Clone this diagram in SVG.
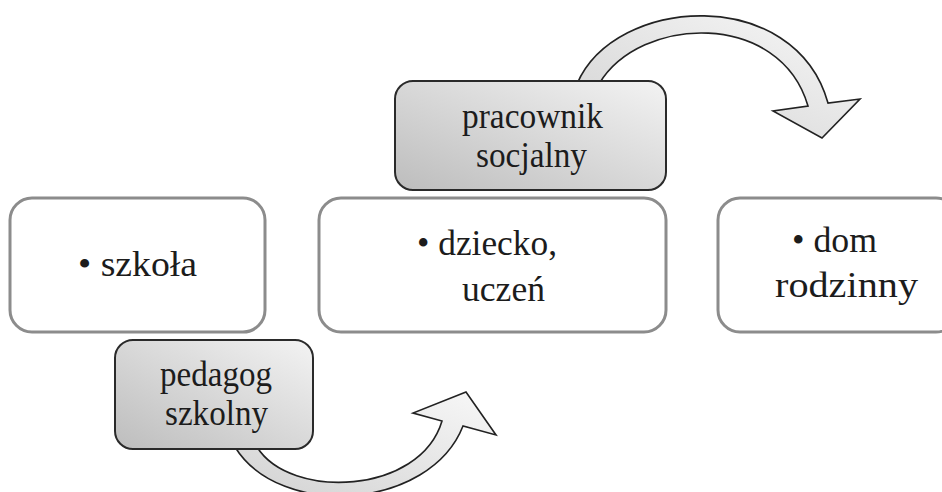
<svg xmlns="http://www.w3.org/2000/svg" width="942" height="492" viewBox="0 0 942 492">
<defs>
<linearGradient id="gBox" x1="0" y1="1" x2="1" y2="0">
<stop offset="0" stop-color="#bdbdbd"/>
<stop offset="1" stop-color="#f3f3f3"/>
</linearGradient>
<linearGradient id="gArrow" x1="0" y1="1" x2="1" y2="0">
<stop offset="0" stop-color="#d2d2d2"/>
<stop offset="1" stop-color="#f8f8f8"/>
</linearGradient>
<style>
.wbox{fill:#ffffff;stroke:#8c8c8c;stroke-width:3}
.gbox{fill:url(#gBox);stroke:#2a2a2a;stroke-width:2}
.arrow{fill:url(#gArrow);stroke:#222222;stroke-width:1.6;stroke-linejoin:miter}
text{font-family:"Liberation Serif","Times New Roman",serif;font-size:35px;fill:#1c1c1c}
</style>
</defs>
<rect width="942" height="492" fill="#ffffff"/>
<g id="connectors">
<path class="arrow" d="M599,84 C640,15 780,10 808,106 L773,111 L822,138 L860,99 L828,103 C795,-15 615,-5 577,84 Z"/>
<path class="arrow" d="M235,447 C280,520 430,510 463,426 L496,435 L466,392 L413,413 L442,421 C420,495 290,500 257,447 Z"/>
</g>
<g id="szkola">
<rect class="wbox" x="10" y="198" width="255" height="134" rx="22"/>
<text x="78" y="276" textLength="119" lengthAdjust="spacingAndGlyphs">• szkoła</text>
</g>
<g id="dziecko">
<rect class="wbox" x="319" y="198" width="347" height="134" rx="22"/>
<text x="417" y="255" textLength="140" lengthAdjust="spacingAndGlyphs">• dziecko,</text>
<text x="462" y="301" textLength="83" lengthAdjust="spacingAndGlyphs">uczeń</text>
</g>
<g id="dom">
<rect class="wbox" x="718" y="198" width="240" height="134" rx="22"/>
<text x="792" y="252" textLength="85" lengthAdjust="spacingAndGlyphs">• dom</text>
<text x="775" y="297" textLength="143" lengthAdjust="spacingAndGlyphs">rodzinny</text>
</g>
<g id="pracownik">
<rect class="gbox" x="395" y="81" width="271" height="109" rx="18"/>
<text x="462" y="128" textLength="141" lengthAdjust="spacingAndGlyphs">pracownik</text>
<text x="476" y="167" textLength="111" lengthAdjust="spacingAndGlyphs">socjalny</text>
</g>
<g id="pedagog">
<rect class="gbox" x="115" y="340" width="198" height="109" rx="18"/>
<text x="160" y="386" textLength="112" lengthAdjust="spacingAndGlyphs">pedagog</text>
<text x="165" y="425" textLength="103" lengthAdjust="spacingAndGlyphs">szkolny</text>
</g>
</svg>
